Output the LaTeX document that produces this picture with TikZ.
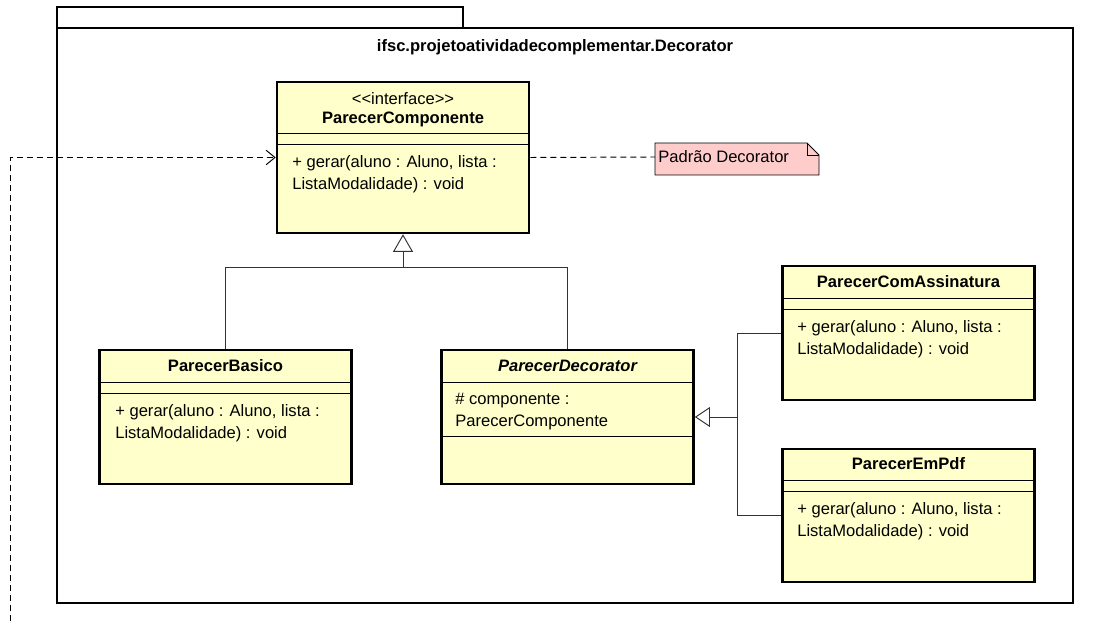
\documentclass[tikz,border=0pt]{standalone}
\usepackage{fontspec}
\setmainfont{Liberation Sans}[Scale=1.035]
\usetikzlibrary{arrows.meta}

\definecolor{umlyellow}{HTML}{FFFFCC}
\definecolor{notepink}{HTML}{FFCCCC}
\definecolor{umlline}{HTML}{333333}

\tikzset{
  classbox/.style={draw, line width=1.6pt, fill=umlyellow, minimum width=157.5pt, inner sep=0pt},
  classname/.style={font=\bfseries, inner sep=0pt, text height=7.2pt, text depth=2pt},
  member/.style={align=left, anchor=west, inner sep=0pt, font=\fontsize{10pt}{13.75pt}\selectfont},
  sepline/.style={line width=0.6pt},
  gen/.style={line width=0.6pt, draw=umlline},
  dep/.style={line width=0.6pt, dash pattern=on 3.75pt off 2.5pt},
}

\begin{document}
\begin{tikzpicture}[x=0.625pt, y=-0.625pt]
    \useasboundingbox (0,0) rectangle (1099,621);

    % package
    \draw[line width=1.8pt] (57,7) rectangle (463,28);
    \draw[line width=1.8pt] (57,28) rectangle (1073,603);
    \node[classname] (pkgname) at (555,47) {ifsc.projetoatividadecomplementar.Decorator};

    % interface
    \node[classbox, minimum height=94.375pt] (comp) at (403,157.5) {};
    \node[inner sep=0pt] (compster) at (403,99) {<{}<interface>{}>};
    \node[classname] (compname) at (403,119) {ParecerComponente};
    \draw[sepline] (277,133) -- (529,133);
    \draw[sepline] (277,144) -- (529,144);
    \node[member] (compop) at (292,174) {+ gerar(aluno : Aluno, lista :\\ListaModalidade) : void};

    % note
    \draw[line width=0.6pt, fill=notepink] (655,143) -- (807,143) -- (819,155) -- (819,175) -- (655,175) -- cycle;
    \draw[line width=0.6pt] (807,143) -- (807,155) -- (819,155);
    \node[anchor=west, inner sep=1.875pt] (note) at (655,157) {Padrão Decorator};
    \draw[dep] (comp.east) -- (note.west);

    % ParecerBasico
    \node[classbox, minimum height=83.75pt] (basico) at (225.5,417) {};
    \node[classname] (basiconame) at (225.5,367) {ParecerBasico};
    \draw[sepline] (100,382) -- (351,382);
    \draw[sepline] (100,393) -- (351,393);
    \node[member] (basicoop) at (115,423) {+ gerar(aluno : Aluno, lista :\\ListaModalidade) : void};

    % ParecerDecorator
    \node[classbox, minimum height=83.75pt] (deco) at (567.5,417) {};
    \node[classname, font=\bfseries\itshape] (deconame) at (567.5,367) {ParecerDecorator};
    \draw[sepline] (442,382) -- (693,382);
    \node[member] (decoattr) at (455,412) {\# componente :\\ParecerComponente};
    \draw[sepline] (442,436) -- (693,436);

    % ParecerComAssinatura
    \node[classbox, minimum height=83.75pt] (assin) at (908.5,333) {};
    \node[classname] (assinname) at (908.5,283) {ParecerComAssinatura};
    \draw[sepline] (783,298) -- (1034,298);
    \draw[sepline] (783,309) -- (1034,309);
    \node[member] (assinop) at (797,339) {+ gerar(aluno : Aluno, lista :\\ListaModalidade) : void};

    % ParecerEmPdf
    \node[classbox, minimum height=83.125pt] (pdf) at (908.5,515.5) {};
    \node[classname] (pdfname) at (908.5,465) {ParecerEmPdf};
    \draw[sepline] (783,480) -- (1034,480);
    \draw[sepline] (783,491) -- (1034,491);
    \node[member] (pdfop) at (797,521) {+ gerar(aluno : Aluno, lista :\\ListaModalidade) : void};

    % generalizations
    \coordinate (genA) at (403,267);
    \draw[gen] (basico.north) |- (genA);
    \draw[gen] (deco.north) |- (genA);
    \draw[gen, -{Triangle[open, fill=white, length=11pt, width=12.5pt]}] (genA) -- (comp.south);

    \coordinate (genB) at (737,417);
    \draw[gen] (assin.west) -| (genB);
    \draw[gen] (pdf.west) -| (genB);
    \draw[gen, -{Triangle[open, fill=white, length=9.5pt, width=12.5pt]}] (genB) -- (deco.east);

    % dependency from outside
    \coordinate (ext) at (10,621);
    \draw[dep, -{Straight Barb[length=5.5pt, width=9pt]}] (ext) |- (comp.west);
\end{tikzpicture}
\end{document}
